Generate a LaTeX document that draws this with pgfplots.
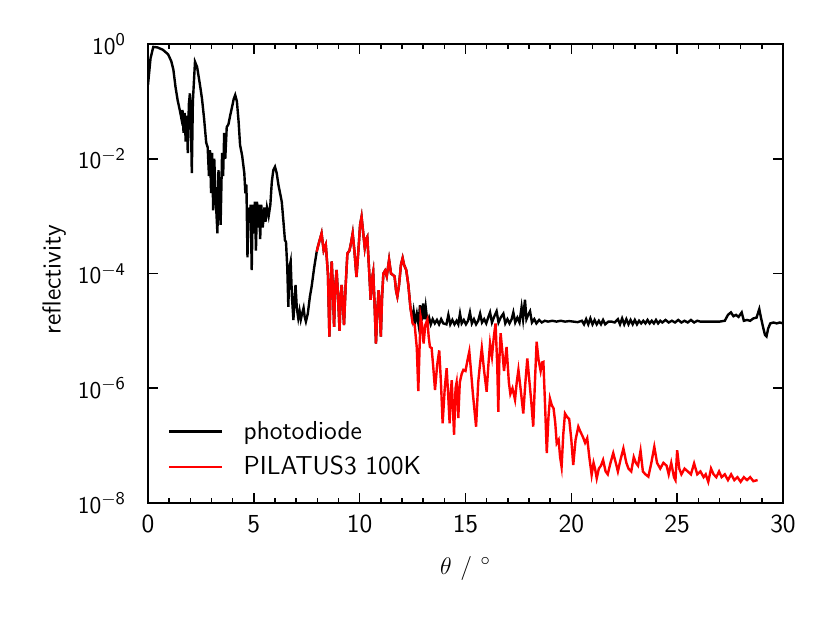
\documentclass[border=0pt]{standalone}
\usepackage{pgfplots}
\pgfplotsset{compat=1.18}
\begin{document}
\begin{tikzpicture}
\path[use as bounding box] (-74pt,-61pt) rectangle (341pt,251.5pt);
\begin{axis}[
  scale only axis, width=317.5pt, height=229.5pt,
  at={(0,0)}, anchor=south west,
  xmin=0, xmax=30, ymin=1e-8, ymax=1,
  ymode=log,
  font=\fontsize{13}{15.6}\selectfont\sffamily,
  axis line style={line width=1pt},
  every tick/.style={black, line width=0.8pt},
  major tick length=5pt, minor tick length=2.5pt,
  xtick={0,5,10,15,20,25,30},
  xticklabels={0,5,10,15,20,25,30},
  minor x tick num=4,
  ytick={1e-8,1e-6,1e-4,1e-2,1},
  yticklabels={$\mathsf{10^{-8}}$,$\mathsf{10^{-6}}$,$\mathsf{10^{-4}}$,$\mathsf{10^{-2}}$,$\mathsf{10^{0}}$},
  yminorticks=false,
  xticklabel style={yshift=-2.5pt},
  yticklabel style={xshift=-7.5pt},
  xlabel={$\theta\ /\ ^\circ$},
  xlabel style={at={(axis description cs:0.5,0)}, anchor=center, yshift=-32.5pt},
  ylabel={reflectivity},
  ylabel style={at={(axis description cs:-0.148,0.486)}, anchor=center},
  legend style={draw=none, fill=none, at={(axis description cs:0,0)}, anchor=south west,
    xshift=7pt, yshift=10.5pt, row sep=7pt, column sep=0pt,
    nodes={inner sep=0pt, anchor=west}},
  legend cell align=left,
  legend image code/.code={\draw[#1, line width=1.1pt] (0pt,0pt) -- (26.5pt,0pt); \path (36.5pt,0pt);},
]
\addplot[black, line width=1.2pt] coordinates {
(0.0,1.95e-1) (0.12,5.62e-1) (0.25,8.91e-1) (0.45,8.71e-1) (0.7,7.94e-1) (0.95,6.61e-1)
(1.1,5.01e-1) (1.2,3.55e-1) (1.3,1.78e-1) (1.4,1.05e-1) (1.5,7.08e-2) (1.58,5.01e-2)
(1.63,7.08e-2) (1.68,2.82e-2) (1.73,6.31e-2) (1.78,2.0e-2) (1.83,5.62e-2) (1.88,1.26e-2)
(1.93,8.91e-2) (1.98,1.38e-1) (2.03,3.98e-2) (2.07,5.62e-3) (2.12,1e-1) (2.22,4.90e-1)
(2.32,3.98e-1) (2.45,2.0e-1) (2.55,1.12e-1) (2.65,5.01e-2) (2.75,1.91e-2) (2.82,1.58e-2)
(2.88,5.01e-3) (2.93,1.41e-2) (2.98,2.51e-3) (3.03,1.26e-2) (3.08,1.26e-3) (3.13,1e-2)
(3.2,2.0e-3) (3.28,5.01e-4) (3.33,6.31e-3) (3.38,2.51e-3) (3.43,7.08e-4) (3.5,1.26e-2)
(3.55,5.01e-3) (3.6,2.82e-2) (3.65,1e-2) (3.72,3.55e-2) (3.8,3.98e-2) (3.88,5.62e-2)
(3.97,7.94e-2) (4.05,1.10e-1) (4.12,1.29e-1) (4.2,1e-1) (4.28,4.47e-2) (4.35,1.74e-2)
(4.45,1.12e-2) (4.55,5.62e-3) (4.6,2.51e-3) (4.65,3.55e-3) (4.7,1.91e-4) (4.75,1.41e-3)
(4.8,7.94e-4) (4.85,1.58e-3) (4.9,1.15e-4) (4.95,1.58e-3) (5.0,5.01e-4) (5.05,1.78e-3)
(5.1,2.51e-4) (5.15,1.78e-3) (5.2,6.31e-4) (5.25,1.58e-3) (5.3,3.98e-4) (5.35,1.58e-3)
(5.42,6.31e-4) (5.5,1.41e-3) (5.55,7.94e-4) (5.62,1.41e-3) (5.7,1e-3) (5.78,1.58e-3)
(5.85,3.98e-3) (5.92,6.31e-3) (6.0,7.24e-3) (6.08,5.62e-3) (6.16,3.55e-3) (6.24,2.51e-3)
(6.32,1.78e-3) (6.4,7.94e-4) (6.47,3.80e-4) (6.52,3.55e-4) (6.58,1.26e-4) (6.63,2.63e-5)
(6.68,1.26e-4) (6.74,1.62e-4) (6.8,3.98e-5) (6.87,1.55e-5) (6.93,3.98e-5) (6.97,6.31e-5)
(7.03,2.51e-5) (7.1,1.66e-5) (7.16,2.24e-5) (7.22,1.58e-5) (7.28,2.0e-5) (7.35,2.51e-5)
(7.4,1.78e-5) (7.46,1.45e-5) (7.55,2.0e-5) (7.65,3.98e-5) (7.73,5.89e-5) (7.85,1.26e-4)
(7.97,2.40e-4) (8.05,3.16e-4) (8.2,5.01e-4) (8.3,2.51e-4) (8.4,3.16e-4) (8.5,1e-4)
(8.57,7.94e-6) (8.63,6.31e-5) (8.68,1.62e-4) (8.74,5.01e-5) (8.79,1.17e-5) (8.85,6.31e-5)
(8.91,1.15e-4) (8.98,3.98e-5) (9.05,1e-5) (9.1,3.98e-5) (9.15,6.31e-5) (9.2,3.16e-5)
(9.26,1.26e-5) (9.34,6.31e-5) (9.42,2.24e-4) (9.52,2.51e-4) (9.6,3.55e-4) (9.67,5.01e-4)
(9.75,2.51e-4) (9.85,8.71e-5) (9.95,2.82e-4) (10.02,7.08e-4) (10.09,9.77e-4) (10.17,5.01e-4)
(10.24,2.82e-4) (10.3,3.98e-4) (10.36,4.37e-4) (10.44,1.26e-4) (10.52,3.47e-5) (10.58,7.94e-5)
(10.64,1.07e-4) (10.7,3.16e-5) (10.77,6.03e-6) (10.84,2.51e-5) (10.9,5.13e-5) (10.95,2.51e-5)
(11.0,7.94e-6) (11.06,3.98e-5) (11.12,1e-4) (11.2,1.12e-4) (11.28,8.91e-5) (11.39,1.74e-4)
(11.48,1e-4) (11.56,9.5e-5) (11.65,8.91e-5) (11.72,5.01e-5) (11.78,3.98e-5) (11.86,6.31e-5)
(11.95,1.41e-4) (12.03,1.86e-4) (12.1,1.41e-4) (12.2,1.15e-4) (12.3,6.31e-5) (12.4,2.51e-5)
(12.5,1.6e-5) (12.55,2.2e-5) (12.62,1.4e-5) (12.7,2.0e-5) (12.78,1.3e-5) (12.85,2.8e-5)
(12.92,1.5e-5) (13.0,3.0e-5) (13.06,1.6e-5) (13.12,2.6e-5) (13.2,1.4e-5) (13.28,1.7e-5)
(13.36,1.3e-5) (13.45,1.6e-5) (13.55,1.35e-5) (13.65,1.55e-5) (13.75,1.3e-5) (13.85,1.6e-5)
(13.95,1.35e-5) (14.1,1.3e-5) (14.19,1.9e-5) (14.28,1.3e-5) (14.38,1.55e-5) (14.48,1.3e-5)
(14.58,1.5e-5) (14.66,1.3e-5) (14.74,2.0e-5) (14.82,1.35e-5) (14.92,1.55e-5) (15.02,1.3e-5)
(15.12,1.5e-5) (15.21,2.1e-5) (15.3,1.35e-5) (15.4,1.6e-5) (15.5,1.3e-5) (15.6,1.5e-5)
(15.69,2.0e-5) (15.78,1.4e-5) (15.88,1.6e-5) (15.98,1.35e-5) (16.07,1.7e-5) (16.16,2.1e-5)
(16.25,1.4e-5) (16.35,1.75e-5) (16.47,2.2e-5) (16.56,1.4e-5) (16.66,1.7e-5) (16.79,2.0e-5)
(16.88,1.35e-5) (16.98,1.6e-5) (17.08,1.35e-5) (17.18,1.6e-5) (17.26,2.1e-5) (17.35,1.4e-5)
(17.45,1.7e-5) (17.55,1.4e-5) (17.65,2.6e-5) (17.72,1.6e-5) (17.81,3.5e-5) (17.88,1.6e-5)
(17.96,1.9e-5) (18.05,2.2e-5) (18.14,1.4e-5) (18.25,1.6e-5) (18.35,1.35e-5) (18.48,1.55e-5)
(18.6,1.4e-5) (18.75,1.5e-5) (18.9,1.45e-5) (19.1,1.5e-5) (19.3,1.45e-5) (19.5,1.5e-5)
(19.7,1.45e-5) (19.9,1.48e-5) (20.1,1.45e-5) (20.3,1.42e-5) (20.5,1.5e-5) (20.6,1.3e-5)
(20.7,1.6e-5) (20.8,1.3e-5) (20.9,1.65e-5) (21.0,1.3e-5) (21.1,1.55e-5) (21.2,1.3e-5)
(21.3,1.5e-5) (21.4,1.3e-5) (21.5,1.55e-5) (21.6,1.3e-5) (21.75,1.45e-5) (21.9,1.45e-5)
(22.05,1.4e-5) (22.2,1.6e-5) (22.3,1.3e-5) (22.4,1.65e-5) (22.5,1.3e-5) (22.6,1.6e-5)
(22.7,1.3e-5) (22.8,1.55e-5) (22.9,1.3e-5) (23.0,1.55e-5) (23.1,1.3e-5) (23.2,1.5e-5)
(23.3,1.35e-5) (23.4,1.5e-5) (23.5,1.35e-5) (23.6,1.55e-5) (23.7,1.35e-5) (23.8,1.5e-5)
(23.9,1.35e-5) (24.0,1.55e-5) (24.1,1.35e-5) (24.2,1.5e-5) (24.3,1.4e-5) (24.45,1.55e-5)
(24.6,1.4e-5) (24.75,1.5e-5) (24.9,1.4e-5) (25.05,1.55e-5) (25.2,1.4e-5) (25.35,1.5e-5)
(25.5,1.4e-5) (25.65,1.55e-5) (25.8,1.4e-5) (25.95,1.5e-5) (26.1,1.45e-5) (26.4,1.45e-5)
(26.7,1.45e-5) (27.0,1.45e-5) (27.25,1.5e-5) (27.4,1.9e-5) (27.54,2.1e-5) (27.66,1.8e-5)
(27.78,1.9e-5) (27.9,1.75e-5) (28.05,2.1e-5) (28.15,1.5e-5) (28.3,1.55e-5) (28.45,1.5e-5)
(28.6,1.65e-5) (28.75,1.7e-5) (28.88,2.4e-5) (28.96,1.7e-5) (29.05,1.2e-5) (29.15,8.5e-6)
(29.22,8.0e-6) (29.3,1.1e-5) (29.4,1.35e-5) (29.55,1.4e-5) (29.7,1.35e-5) (29.85,1.4e-5)
(30.0,1.35e-5)
};
\addlegendentry{photodiode}
\addplot[red, line width=1.2pt] coordinates {
(7.97,2.40e-4) (8.05,3.16e-4) (8.2,5.01e-4) (8.3,2.51e-4) (8.4,3.16e-4) (8.5,1e-4)
(8.57,7.94e-6) (8.63,6.31e-5) (8.68,1.62e-4) (8.74,5.01e-5) (8.79,1.17e-5) (8.85,6.31e-5)
(8.91,1.15e-4) (8.98,3.98e-5) (9.05,1e-5) (9.1,3.98e-5) (9.15,6.31e-5) (9.2,3.16e-5)
(9.26,1.26e-5) (9.34,6.31e-5) (9.42,2.24e-4) (9.52,2.51e-4) (9.6,3.55e-4) (9.67,5.01e-4)
(9.75,2.51e-4) (9.85,8.71e-5) (9.95,2.82e-4) (10.02,7.08e-4) (10.09,9.77e-4) (10.17,5.01e-4)
(10.24,2.82e-4) (10.3,3.98e-4) (10.36,4.37e-4) (10.44,1.26e-4) (10.52,3.47e-5) (10.58,7.94e-5)
(10.64,1.07e-4) (10.7,3.16e-5) (10.77,6.03e-6) (10.84,2.51e-5) (10.9,5.13e-5) (10.95,2.51e-5)
(11.0,7.94e-6) (11.06,3.98e-5) (11.12,1e-4) (11.2,1.12e-4) (11.28,8.91e-5) (11.39,1.74e-4)
(11.48,1e-4) (11.56,9.5e-5) (11.65,8.91e-5) (11.72,5.01e-5) (11.78,3.98e-5) (11.86,6.31e-5)
(11.95,1.41e-4) (12.03,1.86e-4) (12.1,1.41e-4) (12.2,1.15e-4) (12.3,6.31e-5) (12.4,2.51e-5)
(12.5,1.35e-5) (12.6,1.26e-5) (12.7,5.01e-6) (12.77,8.91e-7) (12.83,5.01e-6) (12.88,1.78e-5)
(12.95,1.26e-5) (13.02,6.03e-6) (13.1,1.26e-5) (13.2,1.58e-5) (13.26,7.94e-6) (13.32,5.25e-6)
(13.4,5.01e-6) (13.47,2.51e-6) (13.56,9.33e-7) (13.66,2.51e-6) (13.76,4.57e-6) (13.84,1.26e-6)
(13.92,2.45e-7) (14.02,1e-6) (14.11,2.24e-6) (14.18,7.94e-7) (14.25,2.45e-7) (14.3,7.94e-7)
(14.35,1.38e-6) (14.4,5.01e-7) (14.46,1.55e-7) (14.53,1e-6) (14.58,1.26e-6) (14.66,3.02e-7)
(14.73,1.26e-6) (14.82,1.78e-6) (14.9,2.09e-6) (15.0,2.0e-6) (15.1,3.16e-6) (15.18,4.37e-6)
(15.26,2.0e-6) (15.35,7.94e-7) (15.5,2.14e-7) (15.6,1.26e-6) (15.68,2.51e-6) (15.77,5.01e-6)
(15.88,2.0e-6) (16.0,8.71e-7) (16.08,2.51e-6) (16.16,6.03e-6) (16.25,3.55e-6) (16.34,7.94e-6)
(16.42,1.35e-5) (16.5,2.51e-6) (16.55,3.89e-7) (16.6,3.16e-6) (16.66,9.12e-6) (16.75,3.98e-6)
(16.82,2.0e-6) (16.94,5.25e-6) (17.05,1.26e-6) (17.12,7.94e-7) (17.22,1e-6) (17.34,6.31e-7)
(17.42,1.26e-6) (17.5,2.09e-6) (17.6,1e-6) (17.73,3.63e-7) (17.83,1.26e-6) (17.92,3.31e-6)
(18.0,1.58e-6) (18.1,6.31e-7) (18.2,2.14e-7) (18.28,1.26e-6) (18.36,6.46e-6) (18.45,3.16e-6)
(18.55,2.0e-6) (18.62,2.82e-6) (18.68,2.88e-6) (18.76,5.01e-7) (18.84,7.41e-8) (18.92,3.16e-7)
(18.99,6.61e-7) (19.08,5.01e-7) (19.16,4.47e-7) (19.24,2.51e-7) (19.31,1.10e-7) (19.4,1.26e-7)
(19.47,6.31e-8) (19.54,4.27e-8) (19.62,1.58e-7) (19.7,3.63e-7) (19.8,3.16e-7) (19.9,2.9e-7)
(20.0,1.26e-7) (20.09,4.57e-8) (20.2,1.26e-7) (20.33,2.14e-7) (20.42,1.78e-7) (20.55,1.41e-7)
(20.65,1.12e-7) (20.75,1.35e-7) (20.85,6.31e-8) (20.96,3.09e-8) (21.05,5.01e-8) (21.12,3.98e-8)
(21.2,2.69e-8) (21.3,3.98e-8) (21.4,4.47e-8) (21.5,5.62e-8) (21.62,3.55e-8) (21.72,3.16e-8)
(21.85,5.01e-8) (21.98,7.41e-8) (22.1,5.01e-8) (22.2,3.55e-8) (22.32,5.62e-8) (22.46,8.91e-8)
(22.6,5.01e-8) (22.7,3.98e-8) (22.83,3.55e-8) (22.95,6.31e-8) (23.05,5.01e-8) (23.15,4.47e-8)
(23.27,8.13e-8) (23.38,3.55e-8) (23.5,3.16e-8) (23.64,2.88e-8) (23.78,5.01e-8) (23.92,9.55e-8)
(24.05,5.01e-8) (24.2,3.98e-8) (24.35,5.01e-8) (24.5,4.47e-8) (24.6,3.16e-8) (24.72,5.01e-8)
(24.85,2.82e-8) (24.92,2.51e-8) (25.0,8.32e-8) (25.1,3.98e-8) (25.2,3.16e-8) (25.35,3.98e-8)
(25.5,3.55e-8) (25.65,3.16e-8) (25.8,4.90e-8) (25.95,3.16e-8) (26.1,3.55e-8) (26.25,2.82e-8)
(26.35,3.16e-8) (26.47,2.34e-8) (26.6,3.98e-8) (26.72,3.16e-8) (26.85,2.82e-8) (26.98,3.55e-8)
(27.1,2.82e-8) (27.25,3.16e-8) (27.4,2.51e-8) (27.55,3.16e-8) (27.7,2.51e-8) (27.85,2.82e-8)
(28.0,2.34e-8) (28.15,2.82e-8) (28.3,2.51e-8) (28.45,2.82e-8) (28.6,2.40e-8) (28.8,2.51e-8)
};
\addlegendentry{PILATUS3 100K}
\end{axis}
\end{tikzpicture}
\end{document}
